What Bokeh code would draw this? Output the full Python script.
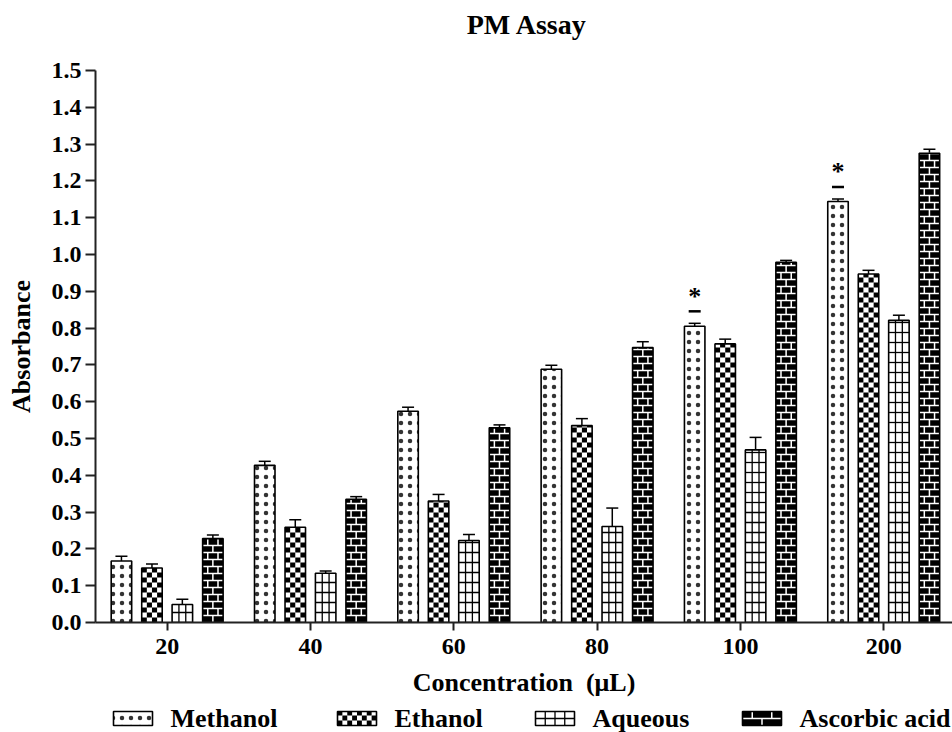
import numpy as np
from bokeh.plotting import figure
from bokeh.layouts import column
from bokeh.models import (ColumnDataSource, Range1d, FixedTicker, Whisker, TeeHead,
                          PrintfTickFormatter)
from bokeh.core.properties import value
from bokeh.embed import file_html
from bokeh.resources import INLINE

# ---------------- data ----------------
categories = ["20", "40", "60", "80", "100", "200"]
series_names = ["Methanol", "Ethanol", "Aqueous", "Ascorbic acid"]

methanol = [0.167, 0.427, 0.574, 0.688, 0.805, 1.144]
methanol_err = [0.013, 0.011, 0.011, 0.011, 0.008, 0.007]
ethanol = [0.148, 0.259, 0.330, 0.535, 0.757, 0.947]
ethanol_err = [0.011, 0.020, 0.018, 0.019, 0.013, 0.010]
aqueous = [0.049, 0.134, 0.223, 0.261, 0.469, 0.821]
aqueous_err = [0.014, 0.006, 0.016, 0.050, 0.034, 0.014]
ascorbic = [0.228, 0.335, 0.529, 0.747, 0.979, 1.275]
ascorbic_err = [0.010, 0.007, 0.008, 0.016, 0.005, 0.011]

sig_methanol = [4, 5]   # category indices marked with * (Methanol)

y_ticks = [0.0, 0.1, 0.2, 0.3, 0.4, 0.5, 0.6, 0.7, 0.8, 0.9, 1.0, 1.1, 1.2, 1.3, 1.4, 1.5]

title_text = "PM Assay"
x_label = "Concentration\u00a0\u00a0(\u03bcL)"
y_label = "Absorbance"

# ---------------- style / layout ----------------
FONT = "Liberation Serif"
BAR_W = 0.143
OFFSETS = [-0.319, -0.106, 0.106, 0.319]
X_END = 5.48
FIG_W = 952
LEFT = 95
TITLE_H = 40
MAIN_TOP = 30
FRAME_H = 552
MAIN_BOTTOM = 82
MAIN_H = MAIN_TOP + FRAME_H + MAIN_BOTTOM
LEG_H = 732 - TITLE_H - MAIN_H
PX_Y = FRAME_H / 1.5
PX_X = (FIG_W - LEFT) / (X_END + 0.5)

LEG_X = [113, 337, 535, 742]   # legend item left edges (page px)
SW_W, SW_H = 39, 14
LEG_GAP = 18


def checker_rects(xc, width, y0, y1, sx, sy, cell_px=5.0):
    ncol = max(1, int(round(width * sx / cell_px)))
    cw = width / ncol
    ch = cell_px / sy
    nrow = int(np.ceil((y1 - y0) / ch - 1e-9))
    out = {"x": [], "y": [], "w": [], "h": []}
    for r in range(nrow):
        a = y0 + r * ch
        b = min(y1, a + ch)
        for c in range(ncol):
            if (r + c) % 2 == 0:
                out["x"].append(xc - width / 2 + (c + 0.5) * cw)
                out["y"].append((a + b) / 2)
                out["w"].append(cw)
                out["h"].append(b - a)
    return out


def brick_segments(xc, width, y0, y1, sy, row_px=7.0):
    rh = row_px / sy
    out = {"x0": [], "y0": [], "x1": [], "y1": []}
    nrow = int(np.ceil((y1 - y0) / rh - 1e-9))
    for r in range(nrow):
        a = y0 + r * rh
        b = min(y1, a + rh)
        if r > 0:
            out["x0"].append(xc - width / 2); out["x1"].append(xc + width / 2)
            out["y0"].append(a); out["y1"].append(a)
        joints = [xc] if r % 2 == 0 else [xc - width / 4, xc + width / 4]
        for jx in joints:
            out["x0"].append(jx); out["x1"].append(jx)
            out["y0"].append(a); out["y1"].append(b)
    return out


def grid_segments(xc, width, y0, y1, sy, ncol=3, row_px=10.0):
    rh = row_px / sy
    out = {"x0": [], "y0": [], "x1": [], "y1": []}
    for c in range(1, ncol):
        x = xc - width / 2 + c * width / ncol
        out["x0"].append(x); out["x1"].append(x); out["y0"].append(y0); out["y1"].append(y1)
    y = y0 + rh
    while y < y1 - 1e-9:
        out["x0"].append(xc - width / 2); out["x1"].append(xc + width / 2)
        out["y0"].append(y); out["y1"].append(y)
        y += rh
    return out


def merge(dicts):
    res = {}
    for d in dicts:
        for k, v in d.items():
            res.setdefault(k, []).extend(v)
    return res


# ---------------- title strip ----------------
tt = figure(width=FIG_W, height=TITLE_H, output_backend="svg", toolbar_location=None,
            x_range=Range1d(LEFT, FIG_W), y_range=Range1d(0, TITLE_H),
            x_axis_type=None, y_axis_type=None, min_border_left=LEFT,
            min_border_right=0, min_border_top=0, min_border_bottom=0)
tt.grid.visible = False
tt.outline_line_color = None
tt.text(x=[(LEFT + FIG_W) / 2 + 3], y=[TITLE_H - 24], text=[title_text],
        text_font=value(FONT), text_font_style="bold", text_font_size="28px",
        text_align="center", text_baseline="middle", text_color="black")

# ---------------- main figure ----------------
p = figure(width=FIG_W, height=MAIN_H, output_backend="svg", toolbar_location=None,
           x_range=Range1d(-0.5, X_END), y_range=Range1d(0, 1.5),
           min_border_left=LEFT, min_border_right=0, min_border_top=MAIN_TOP,
           min_border_bottom=MAIN_BOTTOM)
p.title.text = ""
p.grid.visible = False
p.outline_line_color = None

x_idx = np.arange(len(categories))
all_vals = [methanol, ethanol, aqueous, ascorbic]
all_errs = [methanol_err, ethanol_err, aqueous_err, ascorbic_err]

for k, (vals, errs) in enumerate(zip(all_vals, all_errs)):
    xs = x_idx + OFFSETS[k]
    vals_a = np.array(vals)
    errs_a = np.array(errs)
    src = ColumnDataSource(dict(x=xs, top=vals_a, upper=vals_a + errs_a))
    if k == 0:
        p.vbar(x="x", top="top", width=BAR_W, source=src, fill_color="white",
               line_color=None, hatch_pattern="dot", hatch_scale=9,
               hatch_weight=0.8, hatch_color="#333333")
    elif k == 1:
        p.vbar(x="x", top="top", width=BAR_W, source=src, fill_color="white", line_color=None)
        cells = merge([checker_rects(x, BAR_W, 0, t, PX_X, PX_Y) for x, t in zip(xs, vals_a)])
        p.rect(x=cells["x"], y=cells["y"], width=cells["w"], height=cells["h"],
               fill_color="black", line_color=None)
    elif k == 2:
        p.vbar(x="x", top="top", width=BAR_W, source=src, fill_color="white", line_color=None)
        g = merge([grid_segments(x, BAR_W, 0, t, PX_Y) for x, t in zip(xs, vals_a)])
        p.segment(x0=g["x0"], y0=g["y0"], x1=g["x1"], y1=g["y1"],
                  line_color="black", line_width=1.3)
    else:
        p.vbar(x="x", top="top", width=BAR_W, source=src, fill_color="black", line_color=None)
        segs = merge([brick_segments(x, BAR_W, 0, t, PX_Y) for x, t in zip(xs, vals_a)])
        p.segment(x0=segs["x0"], y0=segs["y0"], x1=segs["x1"], y1=segs["y1"],
                  line_color="white", line_width=1.5)
    p.vbar(x="x", top="top", width=BAR_W, source=src, fill_alpha=0,
           line_color="black", line_width=1.6)
    w = Whisker(source=src, base="x", lower="top", upper="upper", dimension="height",
                line_color="black", line_width=1.5,
                upper_head=TeeHead(size=12, line_width=1.5, line_color="black"),
                lower_head=None)
    p.add_layout(w)

# significance markers (dash + asterisk above the Methanol error bar)
m_arr = np.array(methanol)
me_arr = np.array(methanol_err)
sig_x = x_idx[sig_methanol] + OFFSETS[0]
sig_top = m_arr[sig_methanol] + me_arr[sig_methanol]
sig_src = ColumnDataSource(dict(x=sig_x, y=sig_top, dash_y=sig_top + 12 / PX_Y))
p.rect(x="x", y="dash_y", width=12, height=2.5, width_units="screen",
       height_units="screen", fill_color="black", line_color=None, source=sig_src)
p.text(x="x", y="y", text=value("*"), text_font=value(FONT),
       text_font_style="bold", text_font_size="26px", text_align="center",
       text_baseline="middle", y_offset=-27, text_color="black", source=sig_src)

# ---------------- axes ----------------
for ax in (p.xaxis[0], p.yaxis[0]):
    ax.axis_line_width = 2
    ax.axis_line_color = "#222222"
    ax.major_tick_line_width = 2
    ax.major_tick_line_color = "#222222"
    ax.major_tick_in = 0
    ax.minor_tick_line_color = None
    ax.major_label_text_font = FONT
    ax.major_label_text_font_style = "bold"
    ax.major_label_text_font_size = "24px"
    ax.major_label_text_color = "black"
    ax.axis_label_text_font = FONT
    ax.axis_label_text_font_style = "bold"
    ax.axis_label_text_font_size = "26px"
    ax.axis_label_text_color = "black"

p.yaxis.ticker = FixedTicker(ticks=y_ticks)
p.yaxis.formatter = PrintfTickFormatter(format="%.1f")
p.yaxis.axis_label = y_label
p.yaxis.major_tick_out = 10
p.yaxis.major_label_standoff = 4
p.yaxis.axis_label_standoff = 13

p.xaxis.ticker = FixedTicker(ticks=list(x_idx))
p.xaxis.major_label_overrides = {int(i): c for i, c in zip(x_idx, categories)}
p.xaxis.axis_label = x_label
p.xaxis.major_tick_out = 8
p.xaxis.major_label_standoff = 8
p.xaxis.axis_label_standoff = 11

# ---------------- legend strip ----------------
lg = figure(width=FIG_W, height=LEG_H, output_backend="svg", toolbar_location=None,
            x_range=Range1d(LEFT, FIG_W), y_range=Range1d(0, LEG_H),
            x_axis_type=None, y_axis_type=None, min_border_left=LEFT,
            min_border_right=0, min_border_top=0, min_border_bottom=0)
lg.grid.visible = False
lg.outline_line_color = None

cy = LEG_H / 2
sw_cx = [x + SW_W / 2 for x in LEG_X]
y0s, y1s = cy - SW_H / 2, cy + SW_H / 2
lg.rect(x=[sw_cx[0], sw_cx[1], sw_cx[2]], y=[cy] * 3, width=SW_W, height=SW_H,
        fill_color="white", line_color=None)
lg.rect(x=[sw_cx[0]], y=[cy], width=SW_W, height=SW_H, fill_color="white",
        line_color=None, hatch_pattern="dot", hatch_scale=9, hatch_weight=0.8,
        hatch_color="#333333")
c = checker_rects(sw_cx[1], SW_W, y0s, y1s, 1, 1, cell_px=5.0)
lg.rect(x=c["x"], y=c["y"], width=c["w"], height=c["h"], fill_color="black", line_color=None)
g = grid_segments(sw_cx[2], SW_W, y0s, y1s, 1, ncol=4, row_px=7.0)
lg.segment(x0=g["x0"], y0=g["y0"], x1=g["x1"], y1=g["y1"], line_color="black", line_width=1.3)
lg.rect(x=[sw_cx[3]], y=[cy], width=SW_W, height=SW_H, fill_color="black", line_color=None)
b = brick_segments(sw_cx[3], SW_W, y0s, y1s, 1, row_px=7.0)
lg.segment(x0=b["x0"], y0=b["y0"], x1=b["x1"], y1=b["y1"], line_color="white", line_width=1.5)
lg.rect(x=sw_cx, y=[cy] * 4, width=SW_W, height=SW_H, fill_alpha=0, line_color="black",
        line_width=1.6)
lg.text(x=[x + SW_W + LEG_GAP for x in LEG_X], y=[cy] * 4, text=series_names,
        text_font=value(FONT), text_font_style="bold", text_font_size="26px",
        text_baseline="middle", text_align="left", text_color="black")

layout = column(tt, p, lg, spacing=0)
open("out.html", "w").write(file_html(layout, INLINE))
